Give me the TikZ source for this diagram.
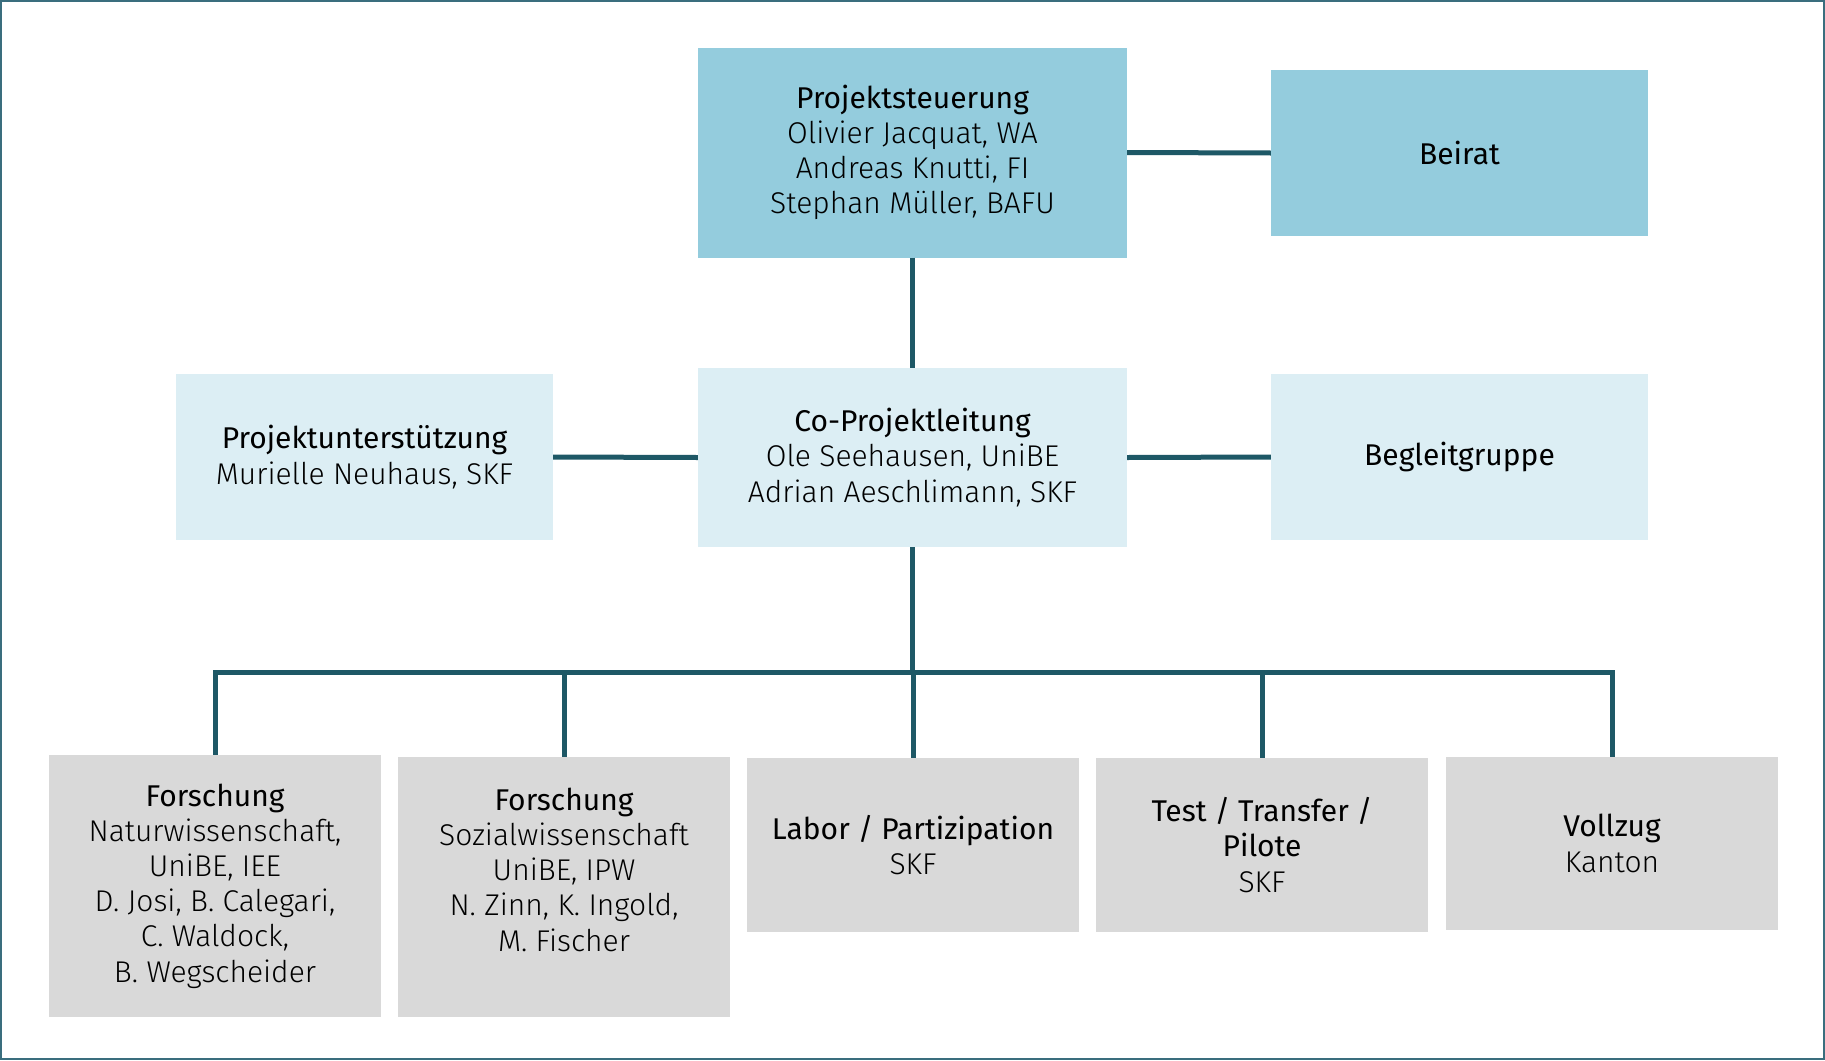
\documentclass[tikz,border=0pt]{standalone}
\usepackage{fontspec}
\setmainfont{Fira Sans Light}[BoldFont={Fira Sans}]
\definecolor{linec}{HTML}{1E5866}
\definecolor{framec}{HTML}{3A6E7E}
\definecolor{darkb}{HTML}{94CCDD}
\definecolor{lightb}{HTML}{DCEEF4}
\definecolor{grayb}{HTML}{D9D9D9}
\begin{document}
\begin{tikzpicture}[x=1pt,y=-1pt,
  box/.style={rectangle, draw=none, align=center, inner sep=0pt,
    font=\fontsize{30}{35.2}\selectfont},
  conn/.style={draw=linec, line width=5pt, line join=miter}]
\useasboundingbox (0,0) rectangle (1825,1060);
\draw[framec, line width=2pt] (1,1) rectangle (1824,1059);

\node[box, fill=darkb, minimum width=429pt, minimum height=210pt] (ps) at (912.5,152.5)
  {\textbf{Projektsteuerung}\\Olivier Jacquat, WA\\Andreas Knutti, FI\\Stephan Müller, BAFU};
\node[box, fill=darkb, minimum width=377pt, minimum height=166pt] (beirat) at (1459.5,153)
  {\textbf{Beirat}};
\node[box, fill=lightb, minimum width=429pt, minimum height=179pt] (co) at (912.5,457.5)
  {\textbf{Co-Projektleitung}\\Ole Seehausen, UniBE\\Adrian Aeschlimann, SKF};
\node[box, fill=lightb, minimum width=377pt, minimum height=166pt] (pu) at (364.5,457)
  {\textbf{Projektunterstützung}\\Murielle Neuhaus, SKF};
\node[box, fill=lightb, minimum width=377pt, minimum height=166pt] (bg) at (1459.5,457)
  {\textbf{Begleitgruppe}};

\node[box, fill=grayb, minimum width=332pt, minimum height=262pt] (b1) at (215,886)
  {\textbf{Forschung}\\Naturwissenschaft,\\UniBE, IEE\\D. Josi, B. Calegari,\\C. Waldock,\\B. Wegscheider};
\node[box, fill=grayb, minimum width=332pt, minimum height=260pt] (b2) at (564,887)
  {\textbf{Forschung}\\Sozialwissenschaft\\UniBE, IPW\\N. Zinn, K. Ingold,\\M. Fischer\\\phantom{X}};
\node[box, fill=grayb, minimum width=332pt, minimum height=174pt] (b3) at (913,845)
  {\textbf{Labor / Partizipation}\\SKF};
\node[box, fill=grayb, minimum width=332pt, minimum height=174pt] (b4) at (1262,845)
  {\textbf{Test / Transfer /}\\\textbf{Pilote}\\SKF};
\node[box, fill=grayb, minimum width=332pt, minimum height=173pt] (b5) at (1612,843.5)
  {\textbf{Vollzug}\\Kanton};

\coordinate (bus) at (912.5,672);
\draw[conn] (ps.south) -- (co.north);
\draw[conn] (ps.east) -- (beirat.west);
\draw[conn] (pu.east) -- (co.west);
\draw[conn] (co.east) -- (bg.west);
\draw[conn] (co.south) -- (bus);
\draw[conn] (b1.north) -- (b1.north |- bus) -- (b5.north |- bus) -- (b5.north);
\draw[conn] (b2.north) -- (b2.north |- bus);
\draw[conn] (b3.north) -- (b3.north |- bus);
\draw[conn] (b4.north) -- (b4.north |- bus);
\end{tikzpicture}
\end{document}
